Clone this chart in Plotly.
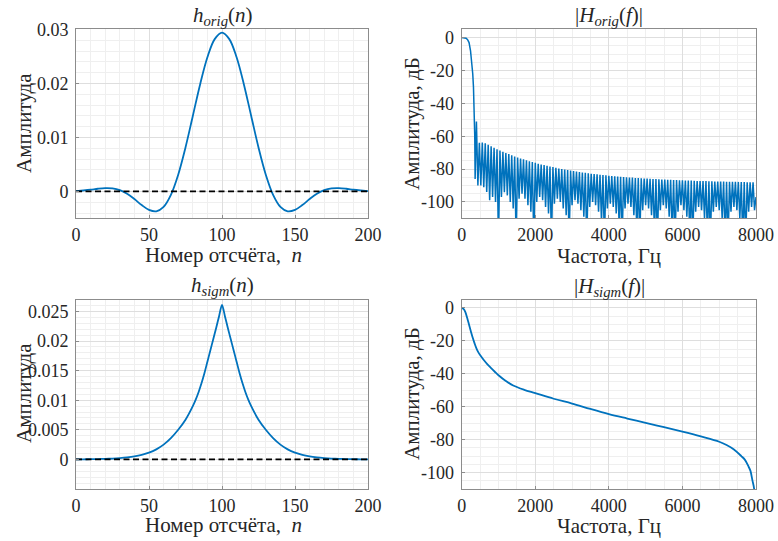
import numpy as np
import plotly.graph_objects as go

# ---------------- data ----------------
# h_orig(n): samples every 5 taps, n = 0..200
orig_n = list(range(0, 201, 5))
orig_half = [0.00005, 0.00017, 0.00031, 0.00049, 0.00060, 0.00055, 0.00023,
             -0.00044, -0.00142, -0.00253, -0.00342, -0.00368, -0.00286,
             -0.00063, 0.00310, 0.00814, 0.01396, 0.01981, 0.02483, 0.02820]
orig_peak = [0.02940]
orig_h = orig_half + orig_peak + orig_half[::-1]

# h_sigm(n)
sigm_n = [0, 5, 10, 15, 20, 25, 30, 35, 40, 45, 50, 55, 60, 65, 70, 75, 80,
          82, 84, 86, 88, 90, 92, 94, 96, 98, 100,
          102, 104, 106, 108, 110, 112, 114, 116, 118, 120,
          125, 130, 135, 140, 145, 150, 155, 160, 165, 170, 175, 180, 185, 190, 195, 200]
sigm_half = [0.00001, 0.00002, 0.00004, 0.00006, 0.00009, 0.00014, 0.00022,
             0.00034, 0.00052, 0.00078, 0.00115, 0.0017, 0.0025, 0.0036,
             0.0050, 0.0067, 0.0090, 0.0101, 0.0114, 0.0129, 0.0146, 0.0165,
             0.0184, 0.0203, 0.0222, 0.0242]
sigm_peak = [0.0261]
sigm_h = sigm_half + sigm_peak + sigm_half[::-1]

# |H_orig(f)| main lobe
orig_main_f = [0, 40, 80, 120, 160, 200, 240, 270, 300, 320, 340, 355, 365]
orig_main_db = [0, 0, -0.1, -0.4, -1.2, -3, -8, -14, -22, -30, -42, -60, -86]
# side-lobe peaks at 400, 480, ..., 7920 Hz
orig_lobe_db = [
    -51, -64, -63.8, -64.3, -65.2, -66.1, -67, -67.9, -68.7, -69.5,
    -70.2, -70.9, -71.6, -72.3, -72.9, -73.5, -74.1, -74.7, -75.2, -75.7,
    -76.2, -76.7, -77.2, -77.6, -78, -78.4, -78.8, -79.2, -79.6, -80,
    -80.3, -80.6, -80.9, -81.2, -81.5, -81.8, -82.1, -82.3, -82.6, -82.8,
    -83, -83.2, -83.4, -83.6, -83.8, -84, -84.2, -84.4, -84.5, -84.7,
    -84.8, -85, -85.1, -85.2, -85.4, -85.5, -85.6, -85.7, -85.8, -85.9,
    -86, -86.1, -86.2, -86.3, -86.4, -86.5, -86.5, -86.6, -86.7, -86.8,
    -86.8, -86.9, -87, -87, -87.1, -87.2, -87.2, -87.3, -87.3, -87.4,
    -87.4, -87.5, -87.5, -87.6, -87.6, -87.7, -87.7, -87.8, -87.8, -87.8,
    -87.9, -87.9, -88, -88, -88]
# nulls at 440, 520, ..., 7960 Hz
orig_null_db = [
    -90, -90, -91, -94, -99, -97, -100, -125, -97, -94,
    -96, -100, -104, -125, -98, -95, -98, -102, -106, -125,
    -100, -97, -99, -103, -107, -125, -101, -98, -100, -104,
    -108, -125, -102, -99, -101, -105, -109, -125, -103, -100,
    -102, -106, -112, -125, -104, -101, -103, -107, -115, -125,
    -104, -101, -103, -108, -118, -125, -105, -102, -104, -108,
    -120, -125, -105, -102, -104, -109, -120, -125, -106, -102,
    -105, -109, -122, -125, -106, -103, -105, -110, -122, -125,
    -106, -103, -105, -110, -123, -125, -106, -103, -105, -110,
    -124, -125, -106, -103, -105]
orig_end_f = [8000]
orig_end_db = [-97]

# |H_sigm(f)|
sigm_f = [0, 50, 100, 150, 200, 250, 300, 350, 400, 450, 500, 600, 700, 800,
          900, 1000, 1200, 1400, 1700, 2000, 2500, 3000, 3500, 4000, 4500,
          5000, 5500, 6000, 6500, 7000, 7200, 7400, 7600, 7700, 7800, 7850,
          7900, 7950, 8000]
sigm_db = [0, -0.6, -2.6, -6.2, -10.3, -14.3, -18.2, -21.6, -24.6, -26.9,
           -28.7, -31.7, -34.3, -36.6, -38.8, -40.9, -44.4, -47.2, -49.8,
           -51.8, -55.2, -58.1, -61.4, -64.5, -67.2, -69.8, -72.5, -75.2,
           -78.1, -81.3, -83.3, -86, -90, -92.3, -96.5, -99, -104.5, -110, -140]

n_ticks = [0, 50, 100, 150, 200]
f_ticks = [0, 2000, 4000, 6000, 8000]
db_ticks = [0, -20, -40, -60, -80, -100]
db_ticklabels = ["0", "-20", "-40", "-60", "-80", "-100"]
orig_yticks = [0, 0.01, 0.02, 0.03]
orig_yticklabels = ["0", "0.01", "0.02", "0.03"]
sigm_yticks = [0, 0.005, 0.01, 0.015, 0.02, 0.025]
sigm_yticklabels = ["0", "0.005", "0.01", "0.015", "0.02", "0.025"]

# assemble side-lobe comb
lobe_f = np.arange(400, 8000, 80)
null_f = lobe_f + 40
assert len(lobe_f) == len(orig_lobe_db) == len(orig_null_db)
comb_f, comb_db = [], []
for fp, dp, fn, dn in zip(lobe_f, orig_lobe_db, null_f, orig_null_db):
    comb_f += [int(fp), int(fn)]
    comb_db += [dp, dn]
Horig_f = orig_main_f + comb_f + orig_end_f
Horig_db = orig_main_db + comb_db + orig_end_db

# ---------------- figure ----------------
W, H = 778, 541
BLUE = "#0072BD"
TXT = "#262626"
FONT = "Liberation Serif, Times New Roman, Times, serif"


def PX(x):
    return x / W


def PY(y):
    return 1 - y / H


fig = go.Figure()

fig.add_trace(go.Scatter(x=orig_n, y=orig_h, mode="lines", line=dict(color=BLUE, width=1.8, shape="spline"),
                         xaxis="x", yaxis="y"))
fig.add_trace(go.Scatter(x=[0, 200], y=[0, 0], mode="lines",
                         line=dict(color="black", width=1.8, dash="6px,3.5px"), xaxis="x", yaxis="y"))
fig.add_trace(go.Scatter(x=Horig_f, y=Horig_db, mode="lines", line=dict(color=BLUE, width=1.5),
                         xaxis="x2", yaxis="y2"))
fig.add_trace(go.Scatter(x=sigm_n, y=sigm_h, mode="lines", line=dict(color=BLUE, width=1.8, shape="spline", smoothing=0.8),
                         xaxis="x3", yaxis="y3"))
fig.add_trace(go.Scatter(x=[0, 200], y=[0, 0], mode="lines",
                         line=dict(color="black", width=1.8, dash="6px,3.5px"), xaxis="x3", yaxis="y3"))
fig.add_trace(go.Scatter(x=sigm_f, y=sigm_db, mode="lines", line=dict(color=BLUE, width=1.8, shape="spline", smoothing=1.0),
                         xaxis="x4", yaxis="y4"))


def ax(domain, rng, tickvals, ticktext, minor_dtick, anchor, standoff):
    return dict(
        domain=domain, range=rng, anchor=anchor, automargin=False,
        tickmode="array", tickvals=tickvals, ticktext=ticktext,
        showline=True, mirror=True, linecolor="#8c8c8c", linewidth=1,
        ticks="inside", ticklen=3, tickcolor="#8c8c8c", tickwidth=1,
        showgrid=True, gridcolor="#dedede", gridwidth=1,
        zeroline=False,
        minor=dict(dtick=minor_dtick, tick0=0, showgrid=True, gridcolor="#efefef",
                   gridwidth=1, ticks=""),
        tickfont=dict(family=FONT, size=18, color=TXT),
        ticklabelstandoff=standoff,
        fixedrange=True,
    )


XL = [PX(76), PX(368)]
XR = [PX(461.7), PX(756)]
YT = [PY(218.4), PY(29.4)]
YB = [PY(489), PY(299.6)]

fig.update_layout(
    xaxis=ax(XL, [0, 200], n_ticks, [str(v) for v in n_ticks], 10, "y", 0),
    yaxis=ax(YT, [-0.005, 0.03], orig_yticks, orig_yticklabels, 0.002, "x", 3),
    xaxis2=ax(XR, [0, 8000], f_ticks, [str(v) for v in f_ticks], 500, "y2", 0),
    yaxis2=ax(YT, [-110, 5], db_ticks, db_ticklabels, 5, "x2", 3),
    xaxis3=ax(XL, [0, 200], n_ticks, [str(v) for v in n_ticks], 10, "y3", 0),
    yaxis3=ax(YB, [-0.005, 0.027], sigm_yticks, sigm_yticklabels, 0.001, "x3", 3),
    xaxis4=ax(XR, [0, 8000], f_ticks, [str(v) for v in f_ticks], 500, "y4", 0),
    yaxis4=ax(YB, [-110, 5], db_ticks, db_ticklabels, 5, "x4", 3),
)


def ann(text, x, y, angle=0, size=21):
    return dict(text=text, x=PX(x), y=PY(y), xref="paper", yref="paper",
                xanchor="center", yanchor="middle", showarrow=False, textangle=angle,
                borderpad=0,
                font=dict(family=FONT, size=size, color=TXT))


annotations = [
    ann("<i>h</i><sub><i>orig</i></sub>(<i>n</i>)", 222, 16, size=21),
    ann("|<i>H</i><sub><i>orig</i></sub>(<i>f</i>)|", 609, 16, size=21),
    ann("<i>h</i><sub><i>sigm</i></sub>(<i>n</i>)", 222, 286, size=21),
    ann("|<i>H</i><sub><i>sigm</i></sub>(<i>f</i>)|", 609, 287, size=21),
    ann("Амплитуда", 24, 123, -90),
    ann("Амплитуда, дБ", 412, 124, -90),
    ann("Амплитуда", 24, 393, -90),
    ann("Амплитуда, дБ", 412, 394, -90),
    ann("Номер отсчёта,&nbsp; <i>n</i>", 223, 255),
    ann("Частота, Гц", 609, 256),
    ann("Номер отсчёта,&nbsp; <i>n</i>", 223, 525),
    ann("Частота, Гц", 609, 526),
]

fig.update_layout(
    width=W, height=H, autosize=False,
    margin=dict(l=0, r=0, t=0, b=0),
    paper_bgcolor="white", plot_bgcolor="white",
    showlegend=False,
    annotations=annotations,
    font=dict(family=FONT, color=TXT),
)

fig.write_html("out.html",
               config={"displayModeBar": False},
               post_script="document.body.style.margin='0';document.body.style.overflow='hidden';")
